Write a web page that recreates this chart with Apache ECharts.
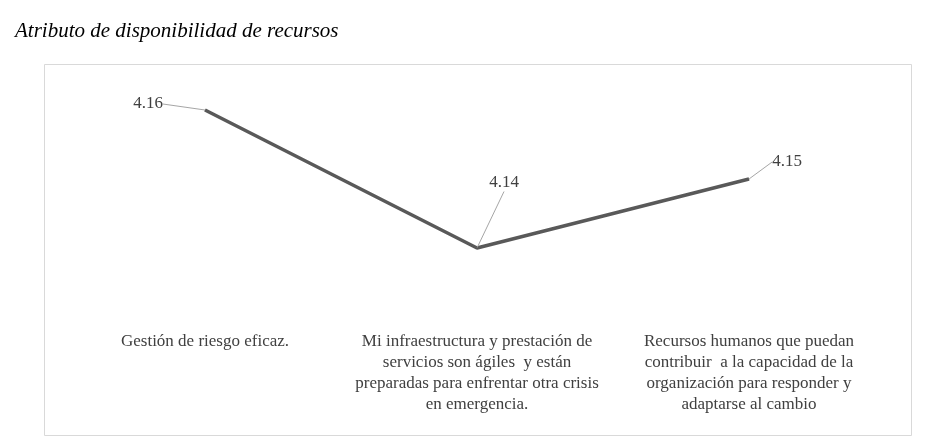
<!DOCTYPE html>
<html><head><meta charset="utf-8">
<script src="https://cdn.jsdelivr.net/npm/echarts@6/dist/echarts.min.js"></script>
<style>html,body{margin:0;padding:0;background:#fff}#c{width:930px;height:442px}</style>
</head><body><div id="c"></div>
<script>
const titleText = 'Atributo de disponibilidad de recursos';
const categories = [
  'Gestión de riesgo eficaz.',
  'Mi infraestructura y prestación de\nservicios son ágiles  y están\npreparadas para enfrentar otra crisis\nen emergencia.',
  'Recursos humanos que puedan\ncontribuir  a la capacidad de la\norganización para responder y\nadaptarse al cambio'
];
const values = [4.16, 4.14, 4.15];
const labelOffsets = [[-57, -6], [27, -65], [38, -17]];

const chart = echarts.init(document.getElementById('c'));
chart.setOption({
  backgroundColor: '#fff',
  animation: false,
  title: {
    text: titleText, left: 15, top: 21, padding: 0,
    textStyle: {fontFamily: 'Liberation Serif', fontStyle: 'italic', fontWeight: 'normal', fontSize: 21, color: '#000'}
  },
  graphic: [{
    type: 'rect', shape: {x: 44.5, y: 64.5, width: 867, height: 371},
    style: {fill: 'none', stroke: '#d9d9d9', lineWidth: 1}, silent: true
  }],
  grid: {left: 69, width: 816, top: 75.5, height: 207},
  xAxis: {
    type: 'category', data: categories, boundaryGap: true,
    axisLine: {show: false}, axisTick: {show: false}, splitLine: {show: false},
    axisLabel: {interval: 0, margin: 49, color: '#404040', fontFamily: 'Liberation Serif', fontSize: 17, lineHeight: 21, align: 'center'}
  },
  yAxis: {type: 'value', min: 4.135, max: 4.165, show: false, splitLine: {show: false}},
  series: [{
    type: 'line', data: values, symbol: 'circle', symbolSize: 1, showSymbol: true,
    itemStyle: {color: '#595959'},
    lineStyle: {color: '#595959', width: 3.5},
    label: {
      show: true, position: 'inside', align: 'center', verticalAlign: 'middle',
      color: '#404040', fontFamily: 'Liberation Serif', fontSize: 17,
      formatter: p => p.value.toFixed(2)
    },
    labelLine: {show: true, lineStyle: {color: '#a6a6a6', width: 1}},
    labelLayout: p => ({dx: labelOffsets[p.dataIndex][0], dy: labelOffsets[p.dataIndex][1]})
  }]
});
</script></body></html>
